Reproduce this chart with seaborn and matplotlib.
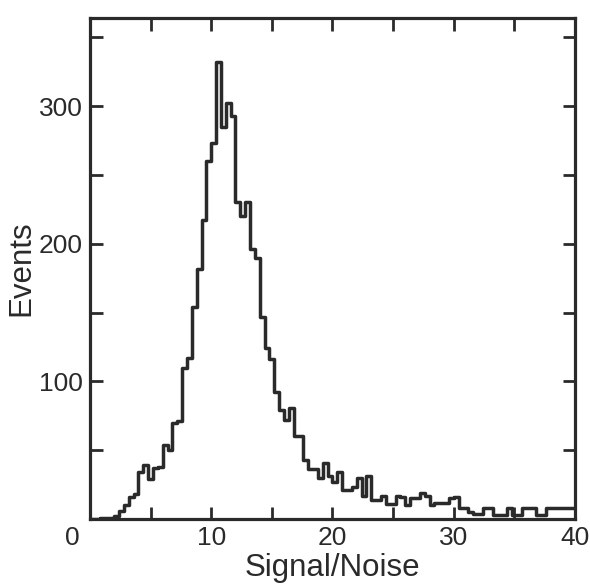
import numpy as np
import pandas as pd
import matplotlib
matplotlib.use("Agg")
import matplotlib.pyplot as plt
import matplotlib.transforms as mtransforms
import seaborn as sns
from matplotlib.ticker import MultipleLocator

# ---- data ----
bin_width = 0.4
x_min, x_max = 0, 40
counts = [0, 0, 1, 1, 1, 2, 6, 10, 16, 18,
          34, 39, 29, 37, 38, 54, 50, 70, 71, 110,
          117, 154, 182, 217, 260, 273, 332, 285, 302, 293,
          230, 220, 230, 196, 190, 147, 124, 116, 92, 79,
          72, 81, 60, 60, 43, 36, 36, 30, 41, 31,
          27, 34, 21, 21, 23, 30, 17, 31, 14, 14,
          17, 11, 11, 17, 16, 10, 15, 15, 19, 17,
          10, 12, 12, 12, 15, 16, 8, 8, 5, 4,
          4, 8, 8, 3, 3, 3, 8, 3, 3, 8,
          8, 8, 3, 3, 8, 8, 8, 8, 8, 8]
x_ticks = [0, 10, 20, 30, 40]
x_tick_labels = ["0", "10", "20", "30", "40"]
y_ticks = [0, 100, 200, 300]
y_tick_labels = ["", "100", "200", "300"]
x_label = "Signal/Noise"
y_label = "Events"

centers = x_min + (np.arange(len(counts)) + 0.5) * bin_width
df = pd.DataFrame({"sn": centers, "events": np.array(counts, dtype=float)})

sns.set_theme(style="ticks")
plt.rcParams["font.family"] = ["Liberation Sans", "DejaVu Sans"]
ink = "#2a2a2a"

fig = plt.figure(figsize=(5.90, 5.87), dpi=100)
ax = fig.add_axes([0.1525, 0.1158, 0.8221, 0.8535])

sns.histplot(data=df, x="sn", weights="events", binwidth=bin_width,
             binrange=(x_min, x_max), element="step", fill=False,
             color=ink, linewidth=2.5, ax=ax)

ax.set_xlim(x_min, x_max)
ax.set_ylim(0, 364)
ax.set_xticks(x_ticks, x_tick_labels)
ax.set_yticks(y_ticks, y_tick_labels)
ax.xaxis.set_minor_locator(MultipleLocator(5))
ax.yaxis.set_minor_locator(MultipleLocator(50))
ax.tick_params(which="both", direction="in", top=True, right=True,
               width=2, color=ink, labelcolor=ink, labelsize=19)
ax.tick_params(which="major", length=9, pad=5)
ax.tick_params(which="minor", length=9)
for s in ax.spines.values():
    s.set_linewidth(2.3)
    s.set_color(ink)

# the "0" label in the reference sits left of the corner
lbl0 = ax.get_xticklabels()[0]
lbl0.set_transform(lbl0.get_transform() +
                   mtransforms.ScaledTranslation(-0.18, 0, fig.dpi_scale_trans))

ax.set_xlabel(x_label, fontsize=22.5, color=ink, labelpad=2)
ax.set_ylabel(y_label, fontsize=22.5, color=ink, labelpad=2)

fig.savefig("out.png", dpi=100, facecolor="white")
